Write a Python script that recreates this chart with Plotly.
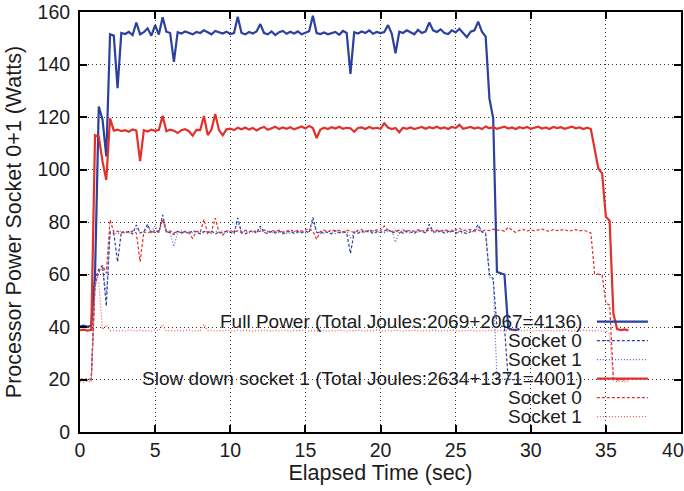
import numpy as np
import plotly.graph_objects as go

# seconds between two samples of the power meter
sample_step = 0.25

x_ticks = [0, 5, 10, 15, 20, 25, 30, 35, 40]
# the last label is padded so it stays inside the window, as in the original
x_tick_labels = ["0", "5", "10", "15", "20", "25", "30", "35", "40\u00a0\u00a0\u00a0"]
y_ticks = [0, 20, 40, 60, 80, 100, 120, 140, 160]

# Full power run (blue)
full_total = [
    40.2, 40.5, 40.1, 40.6, 60.0, 124.0, 119.0, 105.0,
    151.5, 151.0, 131.0, 152.0, 151.6, 152.4, 151.2, 156.0,
    151.5, 152.3, 153.8, 151.0, 155.0, 151.4, 158.0, 152.5,
    152.0, 141.0, 152.3, 151.8, 152.6, 152.0, 151.5, 152.4,
    152.0, 153.0, 152.1, 151.5, 152.8, 152.2, 151.8, 152.5,
    151.6, 152.0, 158.2, 152.0, 151.5, 152.4, 151.8, 152.6,
    155.4, 152.0, 151.5, 152.6, 151.2, 152.3, 152.8, 151.7,
    152.5, 151.8, 152.6, 151.5, 152.2, 152.7, 158.6, 152.0,
    151.6, 152.2, 151.5, 152.0, 152.4, 151.3, 152.8, 152.0,
    136.4, 152.3, 151.8, 152.6, 152.0, 153.0, 151.7, 152.4,
    152.0, 152.4, 155.0, 151.8, 144.3, 152.5, 152.0, 153.0,
    152.2, 151.5, 153.2, 152.0, 152.6, 156.0, 153.0, 152.4,
    153.4, 152.0, 151.6, 153.0, 152.2, 153.6, 152.0, 150.4,
    152.5, 153.0, 156.3, 152.5, 150.6, 127.0, 119.5, 61.0,
    60.5, 60.0, 39.5, 39.0, 38.9, 39.2,
]
full_s0 = [
    20.0, 20.3, 19.8, 20.2, 57.5, 62.0, 63.5, 48.0,
    76.0, 75.6, 64.8, 76.2, 75.8, 76.4, 75.5, 78.9,
    75.8, 76.3, 79.2, 75.6, 77.0, 76.0, 82.7, 76.2,
    76.0, 75.2, 76.5, 75.8, 76.3, 75.6, 76.8, 76.0,
    75.5, 76.4, 75.9, 76.6, 75.4, 76.2, 75.8, 76.5,
    76.0, 75.6, 81.6, 76.0, 75.5, 76.3, 76.8, 75.7,
    78.5, 76.0, 75.6, 76.4, 75.8, 76.6, 75.5, 76.2,
    76.4, 75.7, 76.3, 75.9, 76.6, 75.8, 81.8, 76.1,
    75.6, 76.4, 76.0, 75.5, 76.7, 75.9, 76.3, 75.8,
    68.0, 76.2, 75.7, 76.5, 76.0, 76.8, 75.6, 76.3,
    76.0, 76.5, 77.2, 75.8, 76.4, 76.9, 75.7, 76.6,
    76.2, 75.6, 76.8, 76.3, 75.9, 79.1, 76.4, 76.0,
    76.7, 75.8, 76.4, 76.9, 75.6, 76.5, 76.2, 75.5,
    76.3, 76.8, 79.0, 76.2, 75.5, 60.0, 58.5, 40.0,
    40.5, 40.0, 20.2, 19.8, 20.1, 19.9,
]
full_s1 = [
    19.6, 20.1, 20.4, 19.9, 56.0, 60.5, 62.8, 52.0,
    76.5, 76.0, 75.4, 76.6, 76.2, 75.7, 76.4, 77.5,
    76.2, 75.8, 78.0, 76.4, 78.5, 75.9, 81.0, 76.5,
    75.8, 70.6, 76.2, 76.6, 75.7, 76.4, 75.9, 76.5,
    76.3, 75.8, 76.6, 75.6, 76.5, 76.0, 76.7, 75.9,
    76.4, 76.1, 80.0, 75.7, 76.6, 75.9, 76.2, 76.8,
    77.5, 75.9, 76.5, 75.8, 76.4, 76.0, 76.7, 75.6,
    75.9, 76.5, 75.7, 76.4, 75.8, 76.6, 80.5, 75.8,
    76.4, 75.7, 76.5, 76.2, 75.6, 76.4, 75.9, 76.6,
    74.0, 75.8, 76.5, 75.9, 76.6, 76.1, 76.7, 75.8,
    76.5, 76.0, 76.4, 76.8, 72.3, 76.2, 76.7, 76.0,
    75.8, 76.6, 76.2, 76.7, 76.4, 78.0, 75.8, 76.5,
    76.2, 76.7, 75.9, 76.3, 76.8, 76.0, 75.6, 76.4,
    76.6, 76.0, 78.0, 76.5, 75.8, 59.0, 58.0, 20.5,
    20.0, 20.3, 19.8, 20.2, 19.7, 20.0,
]

# Slow down socket 1 run (red)
slow_total = [
    38.8, 39.0, 38.6, 38.9, 113.0, 112.5, 103.0, 96.0,
    119.5, 114.8, 115.2, 114.6, 115.0, 114.4, 115.3, 114.8,
    103.2, 115.0, 114.5, 115.2, 114.7, 115.1, 120.5, 114.6,
    115.2, 114.8, 113.9, 115.0, 115.4, 114.6, 112.9, 115.1,
    115.0, 120.4, 113.1, 115.2, 121.1, 115.0, 113.0, 115.3,
    115.6, 115.0, 115.9, 115.3, 116.0, 115.2, 115.8, 114.9,
    115.7, 116.2, 115.1, 115.8, 116.3, 115.4, 116.0, 115.5,
    116.1, 115.3, 115.9, 116.4, 115.6, 116.6, 115.8, 112.0,
    115.2, 115.9, 115.4, 116.1, 115.6, 116.3, 115.5, 115.9,
    115.7, 114.4, 115.8, 116.0, 115.4, 116.2, 115.6, 115.9,
    115.5, 117.6, 116.0, 115.4, 115.8, 114.2, 115.9, 115.5,
    116.0, 115.4, 115.8, 116.2, 115.5, 116.1, 115.7, 116.3,
    115.6, 116.0, 115.4, 116.2, 115.8, 117.0, 115.5, 115.9,
    116.2, 115.6, 116.0, 115.4, 116.4, 115.7, 116.1, 115.5,
    115.9, 116.3, 115.6, 116.0, 115.4, 116.1, 115.7, 116.2,
    115.5, 115.9, 116.3, 115.6, 116.0, 115.4, 116.2, 115.8,
    116.1, 115.5, 115.9, 116.3, 115.7, 116.0, 115.4, 115.9,
    115.4, 108.0, 100.4, 98.5, 82.0, 80.5, 45.0, 39.2,
    38.8, 39.1, 38.7,
]
slow_s0 = [
    19.8, 20.1, 19.6, 20.0, 56.0, 61.0, 63.5, 60.5,
    80.8, 76.2, 76.5, 75.9, 76.4, 76.0, 76.6, 75.8,
    64.9, 76.3, 75.8, 76.5, 76.0, 76.4, 81.0, 76.2,
    76.6, 75.9, 76.3, 76.0, 76.5, 75.8, 73.8, 76.4,
    76.0, 81.0, 75.6, 76.3, 81.5, 76.2, 75.0, 76.5,
    76.8, 76.2, 76.6, 76.0, 76.9, 76.3, 76.7, 76.1,
    76.5, 77.0, 76.2, 76.8, 76.4, 76.9, 76.1, 76.6,
    77.0, 76.3, 76.8, 76.5, 77.1, 77.5, 76.6, 73.4,
    76.4, 76.9, 76.3, 77.0, 76.6, 76.8, 76.2, 76.9,
    76.5, 76.0, 76.8, 77.1, 76.4, 76.9, 76.6, 77.0,
    76.7, 78.5, 76.9, 76.4, 76.8, 75.6, 77.0, 76.5,
    76.9, 76.4, 77.1, 76.7, 76.3, 77.0, 76.6, 76.9,
    76.5, 77.1, 76.8, 76.3, 77.0, 77.6, 76.7, 76.9,
    77.2, 76.6, 76.9, 76.4, 77.0, 76.7, 77.3, 76.8,
    77.0, 76.5, 78.0, 76.9, 76.0, 76.8, 77.2, 76.5,
    77.0, 76.6, 76.9, 77.3, 76.8, 76.4, 77.1, 76.7,
    76.9, 77.2, 76.5, 76.8, 77.1, 76.6, 76.9, 76.4,
    75.8, 60.4, 60.0, 59.8, 49.0, 48.4, 20.5, 19.8,
    20.1, 19.7, 20.0,
]
slow_s1 = [
    19.2, 19.0, 19.4, 19.1, 56.5, 57.0, 39.0, 40.8,
    38.6, 38.8, 38.5, 38.7, 38.4, 38.9, 38.6, 38.5,
    38.8, 38.5, 38.7, 38.4, 38.9, 38.6, 40.8, 38.5,
    38.7, 38.4, 38.8, 38.5, 38.6, 38.9, 38.4, 38.7,
    38.5, 41.1, 38.6, 38.8, 38.4, 38.7, 38.5, 38.8,
    38.6, 38.4, 38.7, 38.5, 38.8, 38.6, 38.4, 38.7,
    38.5, 38.8, 38.6, 38.4, 38.7, 38.5, 38.9, 38.6,
    38.4, 38.7, 38.5, 38.8, 38.6, 38.4, 38.7, 38.5,
    38.8, 38.6, 38.4, 38.7, 38.5, 38.8, 38.6, 38.4,
    38.7, 38.5, 38.8, 38.6, 38.4, 38.7, 38.5, 38.9,
    38.6, 38.4, 38.7, 38.5, 38.8, 38.6, 38.4, 38.7,
    38.5, 38.8, 38.6, 38.4, 38.7, 38.5, 38.8, 38.6,
    38.4, 38.7, 38.5, 38.8, 38.6, 38.4, 38.7, 38.5,
    38.8, 38.6, 38.4, 38.7, 38.5, 38.8, 38.6, 38.4,
    38.7, 38.5, 38.8, 38.6, 38.4, 38.7, 38.5, 38.8,
    38.6, 38.4, 38.7, 38.5, 38.8, 38.6, 38.4, 38.7,
    38.5, 38.8, 38.6, 38.4, 38.7, 38.5, 38.8, 38.6,
    38.7, 38.5, 38.8, 38.4, 38.6, 37.5, 19.5, 19.2,
    19.4, 19.0, 19.3,
]

t_full = np.arange(len(full_total)) * sample_step
t_slow = np.arange(len(slow_total)) * sample_step

BLUE = "#2c409e"
BLUE_LIGHT = "#4f66c0"
RED = "#e2302a"
RED_LIGHT = "#eb5a52"
FONT = "Liberation Sans, Arial, sans-serif"
TEXT = "#1c1c1c"

series = [
    ("Full Power (Total Joules:2069+2067=4136)", t_full, full_total, BLUE, 2.2, "solid"),
    ("Socket 0", t_full, full_s0, BLUE, 1.2, "3px,2px"),
    ("Socket 1", t_full, full_s1, BLUE_LIGHT, 1.2, "1px,2px"),
    ("Slow down socket 1 (Total Joules:2634+1371=4001)", t_slow, slow_total, RED, 2.2, "solid"),
    ("Socket 0", t_slow, slow_s0, RED, 1.2, "3px,2px"),
    ("Socket 1", t_slow, slow_s1, RED_LIGHT, 1.2, "1px,2px"),
]

fig = go.Figure()
for name, t, y, color, width, dash in series:
    fig.add_trace(go.Scatter(
        x=t, y=y, mode="lines", name=name, showlegend=False,
        line=dict(color=color, width=width, dash=dash),
    ))

# gnuplot style key: right aligned text, sample line on the right
key_top = 0.2626
key_row = 0.0452
for i, (name, _, _, color, width, dash) in enumerate(series):
    yk = key_top - i * key_row
    fig.add_annotation(
        x=0.8386, y=yk, xref="paper", yref="paper", text=name,
        showarrow=False, xanchor="right", yanchor="middle",
        font=dict(family=FONT, size=19, color=TEXT),
    )
    fig.add_shape(
        type="line", xref="paper", yref="paper",
        x0=0.86, x1=0.945, y0=yk, y1=yk,
        line=dict(color=color, width=width, dash=dash),
    )

# the grid is not drawn behind the key
fig.add_shape(
    type="rect", xref="paper", yref="paper", x0=0, x1=0.957, y0=0, y1=0.29,
    fillcolor="white", line=dict(width=0), layer="between",
)

axis_common = dict(
    showline=True, linecolor="black", linewidth=2, mirror="ticks",
    ticks="inside", ticklen=7, tickwidth=1.5, tickcolor="black",
    showgrid=True, gridcolor="#333333", griddash="1px,3px", gridwidth=1,
    zeroline=False, automargin=False, ticklabeloverflow="allow",
    tickfont=dict(family=FONT, size=19.5, color=TEXT),
)

fig.update_xaxes(
    range=[0, 40], tickvals=x_ticks, ticktext=x_tick_labels,
    title=dict(text="Elapsed Time (sec)", standoff=4,
               font=dict(family=FONT, size=21.5, color=TEXT)),
    **axis_common,
)
fig.update_yaxes(
    range=[0, 160], tickvals=y_ticks, ticklabelstandoff=4,
    title=dict(text="Processor Power Socket 0+1 (Watts)", standoff=10,
               font=dict(family=FONT, size=21.5, color=TEXT)),
    **axis_common,
)

fig.update_layout(
    width=684, height=491,
    margin=dict(l=80, r=3, t=12, b=59),
    plot_bgcolor="white", paper_bgcolor="white",
    showlegend=False,
)

# drop the default body margin so the figure fills the window
fig.write_html(
    "out.html",
    config={"displayModeBar": False},
    post_script="document.body.style.margin = '0';",
)
